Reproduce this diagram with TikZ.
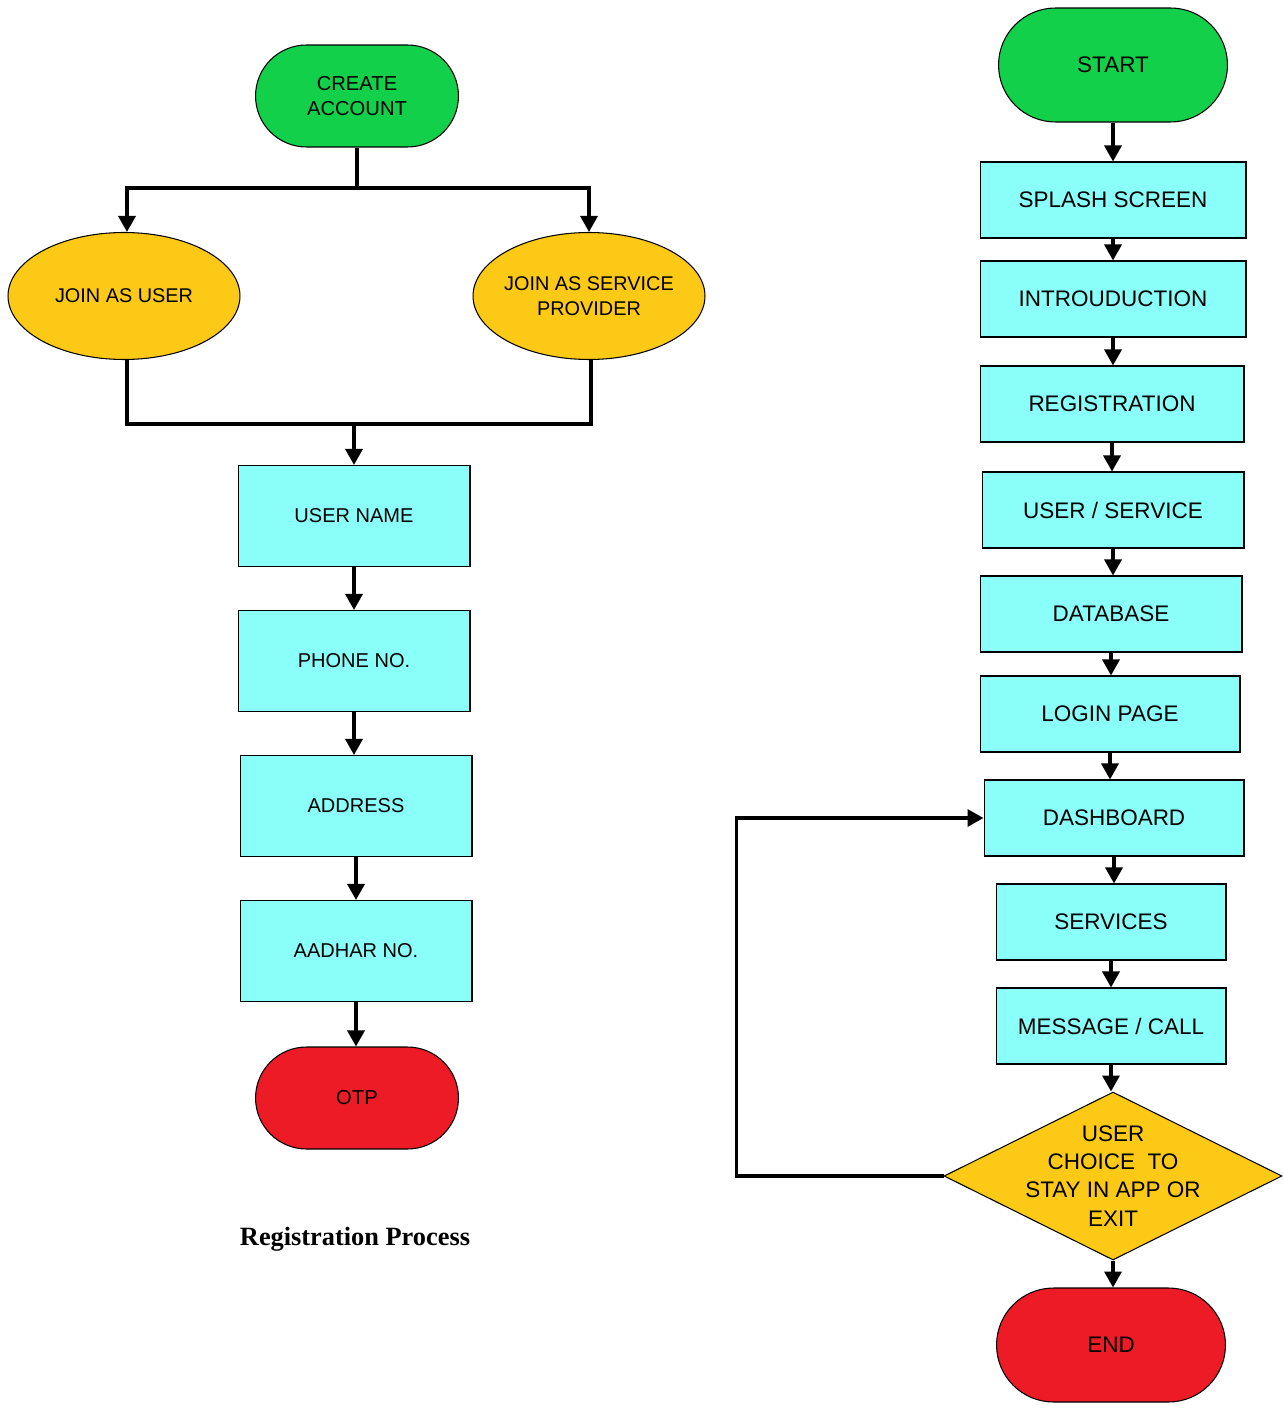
\documentclass[tikz,border=0pt]{standalone}
\usepackage{fontspec}
\setmainfont{Liberation Sans}
\newfontfamily\capfont{Liberation Serif}
\usepackage{tikz}
\usetikzlibrary{arrows.meta,shapes.geometric,shapes.misc}
\definecolor{flgreen}{HTML}{12D04A}
\definecolor{flcyan}{HTML}{8AFFFA}
\definecolor{flyellow}{HTML}{FCC917}
\definecolor{flred}{HTML}{EC1B25}

\begin{document}
\begin{tikzpicture}[x=0.02cm, y=-0.02cm,
  every node/.style={align=center, inner sep=2pt},
  term/.style={rounded rectangle, draw, line width=0.6pt, minimum width=4.2cm, minimum height=2.04cm, font=\fontsize{11.5}{14}\selectfont},
  bigterm/.style={term, minimum width=4.72cm, minimum height=2.28cm, font=\fontsize{12.8}{15}\selectfont},
  ell/.style={ellipse, draw, line width=0.6pt, fill=flyellow, minimum width=4.64cm, minimum height=2.54cm, inner xsep=-4mm, inner ysep=0pt, font=\fontsize{11.3}{14.2}\selectfont},
  lbox/.style={rectangle, draw, line width=0.6pt, fill=flcyan, minimum width=4.64cm, minimum height=2.02cm, font=\fontsize{11.4}{13}\selectfont},
  rbox/.style={rectangle, draw, line width=0.6pt, fill=flcyan, minimum width=5.32cm, minimum height=1.52cm, font=\fontsize{12.8}{15}\selectfont},
  dnode/.style={diamond, draw, line width=0.6pt, fill=flyellow, minimum width=6.76cm, minimum height=3.36cm, inner sep=0pt},
  conn/.style={line width=1.9pt},
  arr/.style={conn, -{Triangle[length=0.32cm, width=0.34cm]}}]

  \useasboundingbox (0,0) rectangle (1282,1405);

  \node (create) [term, fill=flgreen] at (357,96) {CREATE\\ACCOUNT};
  \node (juser) [ell] at (124,296) {JOIN AS USER};
  \node (jprov) [ell] at (589,296) {JOIN AS SERVICE\\PROVIDER};
  \node (uname) [lbox] at (354,516) {USER NAME};
  \node (phone) [lbox] at (354,661) {PHONE NO.};
  \node (addr) [lbox] at (356,806) {ADDRESS};
  \node (aadhar) [lbox] at (356,951) {AADHAR NO.};
  \node (otp) [term, fill=flred] at (357,1098) {OTP};
  \node (cap) [font=\capfont\bfseries\fontsize{15}{18}\selectfont] at (355,1239) {Registration Process};

  \coordinate (fork) at (357,188);
  \coordinate (merge) at (354,424);
  \draw [conn] (create.south) -- (fork);
  \draw [arr] (fork) -| ([xshift=0.06cm]juser.north);
  \draw [arr] (fork) -| (jprov.north);
  \draw [conn] ([xshift=0.06cm]juser.south) |- (merge) -| ([xshift=0.04cm]jprov.south);
  \draw [arr] (merge) -- (merge |- uname.north);
  \foreach \a/\b in {uname/phone, phone/addr, addr/aadhar, aadhar/otp}
    \draw [arr] (\a.south) -- (\a.south |- \b.north);

  \node (start) [bigterm, fill=flgreen] at (1113,65) {START};
  \node (splash) [rbox] at (1113,200) {SPLASH SCREEN};
  \node (intro) [rbox] at (1113,299) {INTROUDUCTION};
  \node (reg) [rbox, minimum width=5.28cm] at (1112,404) {REGISTRATION};
  \node (usvc) [rbox, minimum width=5.24cm] at (1113,510) {USER / SERVICE};
  \node (db) [rbox, minimum width=5.24cm] at (1111,614) {DATABASE};
  \node (login) [rbox, minimum width=5.2cm] at (1110,714) {LOGIN PAGE};
  \node (dash) [rbox, minimum width=5.2cm] at (1114,818) {DASHBOARD};
  \node (svc) [rbox, minimum width=4.6cm] at (1111,922) {SERVICES};
  \node (msg) [rbox, minimum width=4.6cm] at (1111,1026) {MESSAGE / CALL};
  \node (dec) [dnode] at (1113,1176) {};
  \node (dectxt) [font=\fontsize{12.8}{16}\selectfont] at (dec) {USER\\CHOICE\ \ TO\\STAY IN APP OR\\EXIT};
  \node (stop) [bigterm, fill=flred] at (1111,1345) {END};

  \foreach \a/\b in {start/splash, splash/intro, intro/reg, reg/usvc, usvc/db, db/login, login/dash, dash/svc, svc/msg, msg/dec, dec/stop}
    \draw [arr] (\a.south) -- (\a.south |- \b.north);
  \draw [arr] (dec.west) -- ++(-207,0) |- (dash.west);
\end{tikzpicture}
\end{document}
